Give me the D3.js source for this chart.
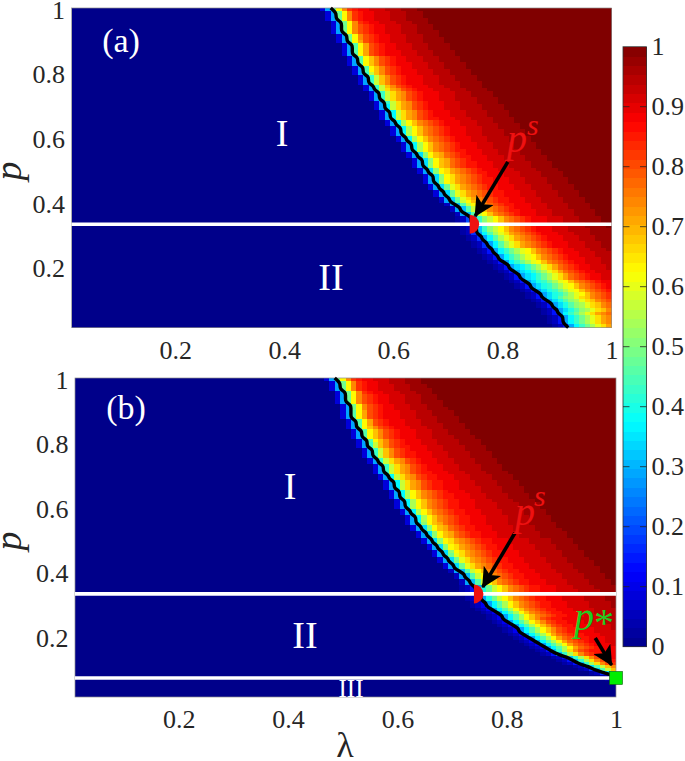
<!DOCTYPE html>
<html>
<head>
<meta charset="utf-8">
<script src="https://cdn.jsdelivr.net/npm/d3@7"></script>
<style>
  html, body { margin: 0; padding: 0; background: #fff; }
  svg { display: block; }
  text { font-family: "Liberation Serif", serif; }
</style>
</head>
<body>
<svg id="chart"></svg>
<script>
// Axis ticks
const lambdaTicks = [0.2, 0.4, 0.6, 0.8, 1];
const pTicks = [0.2, 0.4, 0.6, 0.8, 1];
const barTicks = [0, 0.1, 0.2, 0.3, 0.4, 0.5, 0.6, 0.7, 0.8, 0.9, 1];

// Heatmap: 100 x 100 cells, rows from p = 1 downwards, one base-36 character per
// cell (0 = value 0, z = value 1).
// starts = first cell of the transition in each row
// rises = the climb from blue to red, 5 rows each (3 leading cells before the start)
// darks = cell where each row reaches the darkest red
// fades = the red to dark red stretch, looked up by its length
const startsA = [
  47,48,48,48,49,49,49,49,50,50, 50,51,51,51,51,52,52,52,53,53,
  53,54,54,54,55,55,56,56,56,57, 57,57,58,58,58,59,59,60,60,60,
  61,61,62,62,62,63,63,64,64,64, 65,65,66,66,66,67,67,68,68,69,
  69,70,71,71,72,73,73,73,74,74, 74,75,75,76,76,77,77,78,78,79,
  80,80,81,82,82,83,84,84,85,86, 86,87,88,88,89,89,90,90,90,91
];
const risesA = [
  "003ahmqt", "003ahmqst", "003agmpst", "003agmoqst", "003afkoqst",
  "003afknpqst", "003adknpqst", "003adjmoqrst", "003adjmoqrst", "003acimoprst",
  "003acimnpqrst", "003achlnpqrst", "002abgkmoqrst", "0127bfikmoqrst", "0126adgjlnpqrst",
  "0125adfhjlmoqrst", "0125acdfhjlnprst", "0125acefhjlmoqrst", "0125acegijlnoqrst", "0125adfhjlnpqrst"
];
const darksA = [
  64,65,65,66,66,67,67,68,68,69, 69,70,70,71,71,72,72,73,73,74,
  74,75,75,76,76,77,78,78,79,79, 80,80,81,81,82,82,83,83,84,84,
  85,85,86,86,87,87,88,88,89,89, 90,91,91,92,92,93,93,94,94,95,
  95,96,96,97,97,98,98,99,99,100, 100,101,101,102,102,103,104,104,105,105,
  106,106,107,107,108,108,109,109,110,110, 111,111,112,112,113,113,114,114,115,115
];
const startsB = [
  47,48,48,48,49,49,49,49,50,50, 50,50,50,51,51,51,52,52,52,53,
  53,53,54,54,54,55,55,56,56,56, 57,57,58,58,58,59,59,59,60,60,
  60,61,61,62,62,62,63,63,64,64, 65,65,66,66,67,67,68,68,69,69,
  70,71,71,72,72,73,73,74,74,74, 75,75,76,77,78,78,79,80,81,81,
  82,83,84,85,86,87,88,90,91,92, 94,95,97,99,100,100,100,100,100,100
];
const risesB = [
  "003ahmqt", "003ahmqst", "003agmpst", "003agmoqst", "003afkoqst",
  "003afknpqst", "003adknpqst", "003adjmoqrst", "003adjmoqrst", "003acimoprst",
  "003acimnpqrst", "003achlnpqrst", "002abgkmoqrst", "0125aehkmoqrst", "0124adgjmoqrst",
  "0124adgjmoqst", "0124adgjmprst", "0125bfjnqst", "0126cgkoqst", "000"
];
const darksB = [
  64,64,65,66,66,67,67,68,68,69, 70,70,71,71,72,72,73,73,74,75,
  75,76,76,77,77,78,78,79,79,80, 81,81,82,82,83,83,84,84,85,86,
  86,87,87,88,88,89,89,90,91,91, 92,92,93,93,94,94,95,96,96,97,
  97,98,98,99,99,100,101,101,102,102, 103,103,104,104,105,105,106,107,107,108,
  108,109,109,110,110,111,112,112,113,113, 114,114,115,115,116,116,117,118,118,119
];
const fades = [
  "uvwxyy", "uvwxxyy", "uvwwxxyy", "uvvwwxxyy", "uvvwwxxyyy",
  "uvvwwxxxyyy", "uvvwwwxxxyyy", "uvvwwwxxxyyyy", "uvvvwwwxxxyyyy", "uvvvwwwxxxxyyyy",
  "uuvvvwwwxxxxyyyy", "uuvvvwwwwxxxxyyyy", "uuvvvwwwwxxxxyyyyy", "uuvvvvwwwwxxxxyyyyy", "uuvvvvwwwwxxxxxyyyyy"
];

// Phase lines and marked points, in data units
const linesA = [0.33];
const linesB = [0.33, 0.069];
const pointS = { lambda: 0.74, p: 0.33 };
const pointStar = { lambda: 1, p: 0.069 };
const arrowsA = [[0.81, 0.523, 0.75, 0.355]];
const arrowsB = [[0.815, 0.519, 0.756, 0.351], [0.962, 0.193, 0.992, 0.109]];

const width = 685;
const height = 761;
const ink = "#262626";

const jet = d3.scaleLinear()
  .domain([0, 0.125, 0.375, 0.625, 0.875, 1])
  .range(["#00008a", "#0000ff", "#00ffff", "#ffff00", "#ff0000", "#800000"])
  .clamp(true);

const svg = d3.select("#chart")
  .attr("width", width)
  .attr("height", height)
  .attr("viewBox", [0, 0, width, height]);

svg.append("defs").append("marker")
  .attr("id", "head")
  .attr("markerUnits", "userSpaceOnUse")
  .attr("viewBox", "0 -10 20 20")
  .attr("markerWidth", 20)
  .attr("markerHeight", 20)
  .attr("refX", 19)
  .attr("orient", "auto")
  .append("path")
  .attr("d", "M0,-10 L20,0 L0,10 L5,0 Z")
  .attr("fill", "#000");

function whiteText(t, x, y, size, str) {
  t.append("text").attr("x", x).attr("y", y)
    .attr("text-anchor", "middle").attr("font-size", size)
    .attr("fill", "#fff").text(str);
}

function cellChar(c, start, rise, dark) {
  if (c < start - 3) return "0";
  const riseEnd = start - 3 + rise.length;
  if (c < riseEnd) return rise[c - start + 3];
  const len = Math.max(6, Math.min(20, dark - riseEnd));
  const fade = fades[len - 6];
  return fade[c - riseEnd] || "z";
}

function drawPanel(box, starts, rises, darks, lines, arrows) {
  const g = svg.append("g");
  const x = d3.scaleLinear().domain([0.01, 1]).range([box.left, box.right]);
  const y = d3.scaleLinear().domain([0.01, 1]).range([box.bottom, box.top]);
  const col = d3.scaleLinear().domain([0, 100]).range([box.left, box.right]);
  const row = d3.scaleLinear().domain([0, 100]).range([box.top, box.bottom]);

  // Cells
  const cells = [];
  starts.forEach((start, r) => {
    d3.range(100).forEach(c => {
      const ch = cellChar(c, start, rises[Math.floor(r / 5)], darks[r]);
      cells.push({ r, c, value: parseInt(ch, 36) / 35 });
    });
  });
  g.append("g")
    .attr("shape-rendering", "crispEdges")
    .selectAll("rect")
    .data(cells)
    .join("rect")
    .attr("x", d => col(d.c))
    .attr("y", d => row(d.r))
    .attr("width", col(1) - col(0) + 0.4)
    .attr("height", row(1) - row(0) + 0.4)
    .attr("fill", d => jet(d.value));

  g.append("rect")
    .attr("x", box.left).attr("y", box.top)
    .attr("width", box.right - box.left).attr("height", box.bottom - box.top)
    .attr("fill", "none").attr("stroke", "#8c8c8c").attr("stroke-width", 0.7);

  // Transition line follows the row starts
  const edge = d3.line()
    .x(d => col(d.start + 1))
    .y(d => d.r === 0 ? row(0) : d.r === 99 ? row(100) : row(d.r + 0.5))
    .curve(d3.curveBasis);
  g.append("path")
    .datum(starts.map((start, r) => ({ start, r })).filter(d => d.start < 100))
    .attr("d", edge)
    .attr("fill", "none")
    .attr("stroke", "#000")
    .attr("stroke-width", 3.4)
    .attr("stroke-linejoin", "round");

  g.selectAll(".phase")
    .data(lines)
    .join("line")
    .attr("class", "phase")
    .attr("x1", box.left).attr("x2", box.right)
    .attr("y1", d => y(d)).attr("y2", d => y(d))
    .attr("stroke", "#fff")
    .attr("stroke-width", 3.6);

  // Half disc at p^s
  g.append("path")
    .attr("transform", `translate(${x(pointS.lambda)},${y(pointS.p)})`)
    .attr("d", d3.arc()({ innerRadius: 0, outerRadius: 9.5, startAngle: 0, endAngle: Math.PI }))
    .attr("fill", "#ee1111");

  g.selectAll(".arrow")
    .data(arrows)
    .join("line")
    .attr("class", "arrow")
    .attr("x1", d => x(d[0])).attr("y1", d => y(d[1]))
    .attr("x2", d => x(d[2])).attr("y2", d => y(d[3]))
    .attr("stroke", "#000")
    .attr("stroke-width", 3.6)
    .attr("marker-end", "url(#head)");

  // Axes
  g.append("g")
    .attr("transform", `translate(0,${box.bottom})`)
    .call(d3.axisBottom(x).tickValues(lambdaTicks).tickSize(0).tickFormat(d3.format("~g")))
    .call(a => a.select(".domain").remove())
    .selectAll("text")
    .attr("y", 31).attr("dy", 0)
    .attr("font-size", 26).attr("fill", ink);
  g.append("g")
    .attr("transform", `translate(${box.left},0)`)
    .call(d3.axisLeft(y).tickValues(pTicks).tickSize(0).tickFormat(d3.format("~g")))
    .call(a => a.select(".domain").remove())
    .selectAll("text")
    .attr("x", -6.5).attr("dy", "0.4em")
    .attr("font-size", 26).attr("fill", ink);

  g.append("text")
    .attr("transform", `translate(21,${box.top + 163}) rotate(-90)`)
    .attr("text-anchor", "middle")
    .attr("font-size", 38).attr("font-style", "italic").attr("fill", ink)
    .text("p");

  return { g, x, y };
}

const a = drawPanel({ left: 71.5, right: 611.5, top: 8, bottom: 327.5 }, startsA, risesA, darksA, linesA, arrowsA);
whiteText(a.g, 121, 52, 34, "(a)");
whiteText(a.g, 282, 146, 38, "I");
whiteText(a.g, 331, 290, 38, "II");

const b = drawPanel({ left: 75, right: 616, top: 378, bottom: 697 }, startsB, risesB, darksB, linesB, arrowsB);
whiteText(b.g, 126, 419, 34, "(b)");
whiteText(b.g, 290, 499, 38, "I");
whiteText(b.g, 305, 648, 38, "II");
whiteText(b.g, 351, 697, 25, "III");

// Red and green point labels
function pointLabel(px, py, color, sup, sx, sy) {
  svg.append("text").attr("x", px).attr("y", py)
    .attr("font-size", 40).attr("font-style", "italic").attr("fill", color).text("p");
  svg.append("text").attr("x", sx).attr("y", sy)
    .attr("font-size", sup === "s" ? 30 : 40)
    .attr("font-style", sup === "s" ? "italic" : "normal")
    .attr("fill", color).text(sup);
}
pointLabel(507, 152, "#ee1111", "s", 527, 135);
pointLabel(515, 525, "#ee1111", "s", 534, 506);
pointLabel(574, 630, "#22cc22", "*", 594, 636);

// Green square at p*
b.g.append("rect")
  .attr("x", b.x(pointStar.lambda) - 6.5)
  .attr("y", b.y(pointStar.p) - 6.5)
  .attr("width", 13).attr("height", 13)
  .attr("fill", "#00ee00")
  .attr("stroke", "#0a5a0a").attr("stroke-width", 0.6);

svg.append("text")
  .attr("x", 345).attr("y", 757)
  .attr("text-anchor", "middle")
  .attr("font-size", 36).attr("fill", ink)
  .text("λ");

// Colorbar
const barLeft = 623, barRight = 646.5;
const barY = d3.scaleLinear().domain([0, 1]).range([646.7, 46.7]);
const steps = d3.range(64);
const bar = svg.append("g");
bar.append("g")
  .attr("shape-rendering", "crispEdges")
  .selectAll("rect")
  .data(steps)
  .join("rect")
  .attr("x", barLeft)
  .attr("width", barRight - barLeft)
  .attr("y", d => barY((d + 1) / 64))
  .attr("height", barY(0) - barY(1 / 64) + 0.5)
  .attr("fill", d => jet((d + 0.5) / 64));
bar.append("rect")
  .attr("x", barLeft).attr("y", barY(1))
  .attr("width", barRight - barLeft).attr("height", barY(0) - barY(1))
  .attr("fill", "none").attr("stroke", "#333").attr("stroke-width", 0.8);
bar.selectAll(".tl").data(barTicks.slice(1, -1)).join("line").attr("class", "tl")
  .attr("x1", barLeft).attr("x2", barLeft + 6.5)
  .attr("y1", d => barY(d)).attr("y2", d => barY(d))
  .attr("stroke", "#222").attr("stroke-width", 0.8);
bar.selectAll(".tr").data(barTicks.slice(1, -1)).join("line").attr("class", "tr")
  .attr("x1", barRight - 6.5).attr("x2", barRight)
  .attr("y1", d => barY(d)).attr("y2", d => barY(d))
  .attr("stroke", "#222").attr("stroke-width", 0.8);
bar.selectAll(".lb").data(barTicks).join("text").attr("class", "lb")
  .attr("x", 651.5)
  .attr("y", d => barY(d))
  .attr("dy", "0.33em")
  .attr("font-size", 26)
  .attr("fill", ink)
  .text(d => d3.format("~g")(d));
</script>
</body>
</html>
